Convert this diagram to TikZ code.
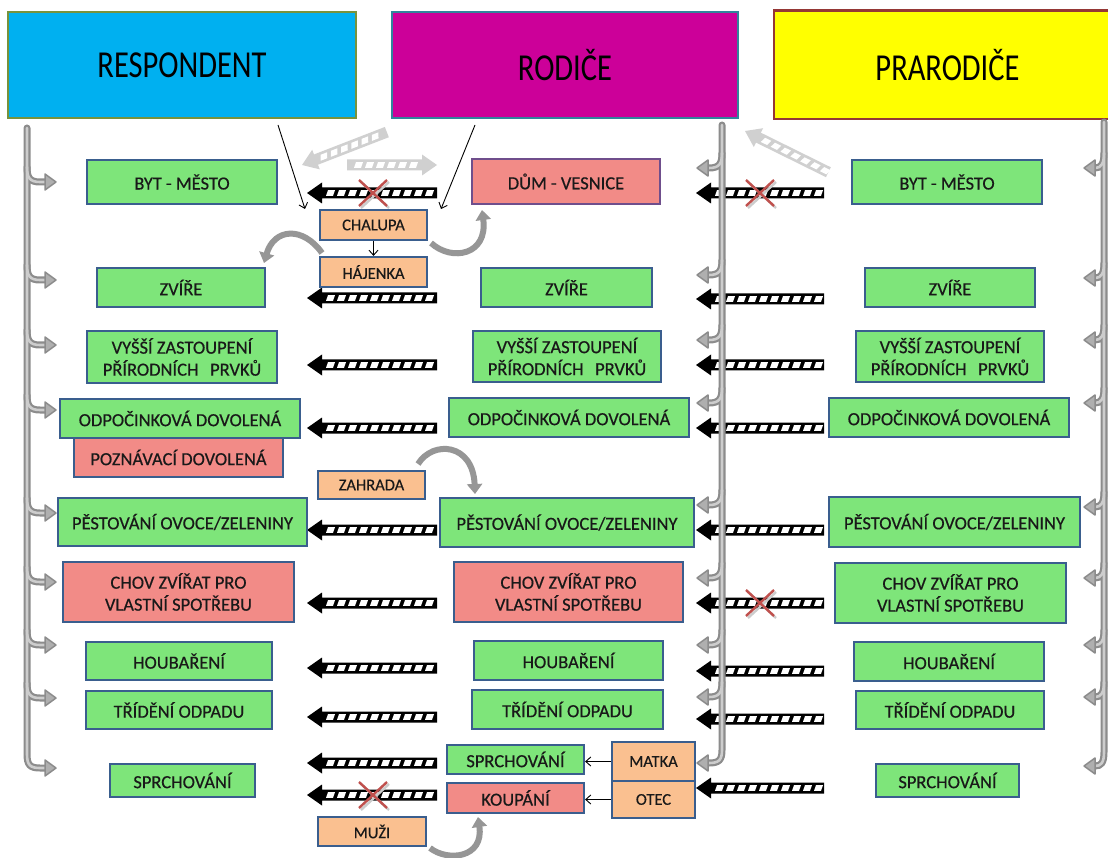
\documentclass[tikz,border=0pt]{standalone}
\usepackage{fontspec}
\setmainfont{Carlito}
\newfontfamily\bxfont{Carlito}[FakeBold=0.45]
\usetikzlibrary{arrows.meta,calc}
\definecolor{gfill}{HTML}{7EE57A}
\definecolor{pfill}{HTML}{F28B87}
\definecolor{ofill}{HTML}{FAC090}
\definecolor{bord}{HTML}{3A5E8E}
\definecolor{purp}{HTML}{6F4E8C}
\definecolor{cyanh}{HTML}{00B0F0}
\definecolor{magh}{HTML}{CC0099}
\definecolor{yelh}{HTML}{FFFF00}
\definecolor{cyanb}{HTML}{77933C}
\definecolor{magb}{HTML}{31859C}
\definecolor{yelb}{HTML}{953735}
\definecolor{pipeO}{RGB}{140,140,140}
\definecolor{pipeI}{RGB}{205,205,205}
\definecolor{pipeH}{RGB}{175,175,175}
\definecolor{curveg}{RGB}{150,150,150}
\definecolor{lightar}{RGB}{208,208,208}
\definecolor{xred}{HTML}{C0504D}
\tikzset{
  box/.style={draw=bord, line width=2.2pt, inner sep=0pt, align=center,
    font=\bxfont\fontsize{18.5}{22}\selectfont, text=black!90},
  gbox/.style={box, fill=gfill},
  pbox/.style={box, fill=pfill},
  obox/.style={box, fill=ofill, font=\bxfont\fontsize{16.5}{19}\selectfont},
  headbox/.style={line width=2.5pt, inner sep=0pt, font=\fontsize{30.5}{33}\selectfont},
  pipeo/.style={draw=pipeO, line width=7pt, line cap=round},
  pipei/.style={draw=pipeI, line width=2.6pt, line cap=round},
  pipehead/.style={fill=pipeH, draw=pipeO, line width=1.5pt, line join=round},
  garc/.style={draw=curveg, line width=6pt, -{Triangle[length=10pt,width=15pt]}},
  thinarr/.style={draw=black, line width=0.9pt, -{Straight Barb[length=5pt,width=9pt]}},
  xmk/.style={draw=xred, line width=2.4pt},
  xsh/.style={draw=black!20, line width=2.4pt},
  pics/sarrow/.style 2 args={code={
    \fill[#2] (0,0) -- (15,-10.5) -- (15,-5.5) -- (#1,-5.5) -- (#1,5.5) -- (15,5.5) -- (15,10.5) -- cycle;
    \pgfmathtruncatemacro\nd{(#1-26)/11}
    \foreach \k in {0,...,\nd}
      \fill[white] ({19+11*\k+2},-2.8) -- ({19+11*\k+9},-2.8) -- ({19+11*\k+7},2.8) -- ({19+11*\k},2.8) -- cycle;
  }}
}
\newcommand\mybox[7]{\node[#2, minimum width={#5-#3}, minimum height={#6-#4}] (#1) at ({(#3+#5)/2},{(#4+#6)/2}) {#7};}
\newcommand\pipeset[1]{%
  \foreach \y in {182,280,345,410,513,582,645,698}
    \draw[#1] (27,\y-15) .. controls (27,\y-4) and (30,\y) .. (40,\y) -- (45,\y);
  \draw[#1] (27,128) -- (27,754) .. controls (27,765) and (30,768) .. (40,768) -- (45,768);
  \foreach \y in {168,275,340,403,505,578,645,697}
    \draw[#1] (722,\y-15) .. controls (722,\y-4) and (719,\y) .. (709,\y) -- (708,\y);
  \draw[#1] (722,125) -- (722,750) .. controls (722,760) and (719,763) .. (709,763) -- (708,763);
  \foreach \y in {168,278,340,403,507,578,645,697}
    \draw[#1] (1104,\y-15) .. controls (1104,\y-4) and (1101,\y) .. (1095,\y);
  \draw[#1] (1104,122) -- (1104,752) .. controls (1104,763) and (1101,766) .. (1095,766);
}
\begin{document}
\begin{tikzpicture}[x=1pt,y=-1pt]
\useasboundingbox (0,0) rectangle (1108,858);
\clip (0,0) rectangle (1108,858);
\fill[white] (0,0) rectangle (1108,858);

% headers
\node[headbox, fill=cyanh, draw=cyanb, minimum width=348, minimum height=106] (hr) at (182,65) {\scalebox{1}[1.25]{RESPONDENT}};
\node[headbox, fill=magh, draw=magb, minimum width=346, minimum height=106] (hp) at (565,65) {\scalebox{1}[1.25]{RODIČE}};
\node[headbox, fill=yelh, minimum width=345, minimum height=106] (hg) at (947.5,65) {\scalebox{1}[1.25]{PRARODIČE}};
\draw[yelb, line width=2.5pt] (hg.north east) -- (hg.north west) -- (hg.south west) -- (hg.south east);

% striped arrows (black)
\foreach \y in {193,298,365,428,530,603,668,717,763,795}
  \pic at (307,\y) {sarrow={130}{black}};
\foreach \y in {193,299,365,428,530,603,671,719,788}
  \pic at (696,\y) {sarrow={128}{black}};
% light arrows
\pic[rotate=21.2] at (302,165) {sarrow={91}{lightar}};
\pic[rotate=180] at (437,165) {sarrow={90}{lightar}};
\pic[rotate=-26.3] at (745,131) {sarrow={93}{lightar}};

% pipes
\pipeset{pipeo}
\pipeset{pipei}
\foreach \y in {182,280,345,410,513,582,645,698,768}
  \filldraw[pipehead] (45,\y-8) -- (56,\y) -- (45,\y+8) -- cycle;
\foreach \y in {168,275,340,403,505,578,645,697,763}
  \filldraw[pipehead] (708,\y-8) -- (697,\y) -- (708,\y+8) -- cycle;
\foreach \y in {168,278,340,403,507,578,645,697,766}
  \filldraw[pipehead] (1095,\y-8) -- (1084,\y) -- (1095,\y+8) -- cycle;

% respondent column
\mybox{r1}{gbox}{87}{160}{277}{204}{BYT - MĚSTO}
\mybox{r2}{gbox}{97}{268}{265}{307}{ZVÍŘE}
\mybox{r3}{gbox}{87}{331}{277}{383}{VYŠŠÍ ZASTOUPENÍ\\PŘÍRODNÍCH\hspace{0.4em} PRVKŮ}
\mybox{r4}{gbox}{60}{399}{300}{438}{ODPOČINKOVÁ DOVOLENÁ}
\mybox{r5}{pbox}{74}{438}{283}{477}{POZNÁVACÍ DOVOLENÁ}
\mybox{r6}{gbox}{58}{498}{307}{546}{PĚSTOVÁNÍ OVOCE/ZELENINY}
\mybox{r7}{pbox}{63}{562}{294}{622}{CHOV ZVÍŘAT PRO\\VLASTNÍ SPOTŘEBU}
\mybox{r8}{gbox}{86}{642}{272}{680}{HOUBAŘENÍ}
\mybox{r9}{gbox}{86}{691}{272}{729}{TŘÍDĚNÍ ODPADU}
\mybox{r10}{gbox}{110}{764}{255}{797}{SPRCHOVÁNÍ}

% parents column
\mybox{p1}{pbox,draw=purp}{472}{159}{660}{204}{DŮM - VESNICE}
\mybox{p2}{gbox}{481}{268}{652}{307}{ZVÍŘE}
\mybox{p3}{gbox}{473}{331}{661}{382}{VYŠŠÍ ZASTOUPENÍ\\PŘÍRODNÍCH\hspace{0.4em} PRVKŮ}
\mybox{p4}{gbox}{449}{398}{689}{437}{ODPOČINKOVÁ DOVOLENÁ}
\mybox{p6}{gbox}{440}{498}{694}{547}{PĚSTOVÁNÍ OVOCE/ZELENINY}
\mybox{p7}{pbox}{454}{562}{683}{622}{CHOV ZVÍŘAT PRO\\VLASTNÍ SPOTŘEBU}
\mybox{p8}{gbox}{474}{641}{663}{680}{HOUBAŘENÍ}
\mybox{p9}{gbox}{472}{690}{663}{729}{TŘÍDĚNÍ ODPADU}
\mybox{p10}{gbox}{447}{745}{584}{774}{SPRCHOVÁNÍ}
\mybox{p11}{pbox}{447}{783}{584}{813}{KOUPÁNÍ}

% grandparents column
\mybox{g1}{gbox}{852}{160}{1042}{204}{BYT - MĚSTO}
\mybox{g2}{gbox}{865}{268}{1035}{307}{ZVÍŘE}
\mybox{g3}{gbox}{856}{331}{1044}{382}{VYŠŠÍ ZASTOUPENÍ\\PŘÍRODNÍCH\hspace{0.4em} PRVKŮ}
\mybox{g4}{gbox}{829}{398}{1069}{437}{ODPOČINKOVÁ DOVOLENÁ}
\mybox{g6}{gbox}{829}{497}{1080}{547}{PĚSTOVÁNÍ OVOCE/ZELENINY}
\mybox{g7}{gbox}{835}{563}{1066}{623}{CHOV ZVÍŘAT PRO\\VLASTNÍ SPOTŘEBU}
\mybox{g8}{gbox}{854}{642}{1044}{681}{HOUBAŘENÍ}
\mybox{g9}{gbox}{856}{691}{1044}{729}{TŘÍDĚNÍ ODPADU}
\mybox{g10}{gbox}{876}{764}{1019}{797}{SPRCHOVÁNÍ}

% small orange boxes
\mybox{chalupa}{obox}{320}{210}{427}{240}{CHALUPA}
\mybox{hajenka}{obox}{320}{257}{427}{287}{HÁJENKA}
\mybox{zahrada}{obox}{318}{471}{425}{499}{ZAHRADA}
\mybox{matka}{obox}{612}{742}{695}{781}{MATKA}
\mybox{otec}{obox}{612}{781}{695}{818}{OTEC}
\mybox{muzi}{obox}{318}{817}{426}{846}{MUŽI}

% red crosses
\foreach \x/\y in {373/193,760/193,760/603,373/795}{
  \draw[xsh] (\x-12,\y-11) -- (\x+16,\y+15) (\x-12,\y+15) -- (\x+16,\y-11);
  \draw[xmk] (\x-14,\y-13) -- (\x+14,\y+13) (\x-14,\y+13) -- (\x+14,\y-13);
}

% thin arrows
\coordinate (t1s) at (278,125);
\coordinate (t1e) at (305,209);
\coordinate (t2s) at (475,125);
\coordinate (t2e) at (441,209);
\draw[thinarr] (t1s) -- (t1e);
\draw[thinarr] (t2s) -- (t2e);
\draw[thinarr] (chalupa.south) -- (hajenka.north);
\draw[thinarr] (matka.west) -- (matka.west -| p10.east);
\draw[thinarr] (otec.west) -- (otec.west -| p11.east);

% gray curved arrows
\coordinate (c1s) at (322,253);
\coordinate (c1e) at (264,263);
\coordinate (c2s) at (431,243);
\coordinate (c2e) at (482,210);
\coordinate (c3s) at (418,464);
\coordinate (c3e) at (475,494);
\coordinate (c4s) at (430,848);
\coordinate (c4e) at (478,817);
\draw[garc] (c1s) .. controls (303,226) and (274,228) .. (c1e);
\draw[garc] (c2s) .. controls (452,262) and (488,255) .. (c2e);
\draw[garc] (c3s) .. controls (433,440) and (473,443) .. (c3e);
\draw[garc] (c4s) .. controls (448,862) and (484,858) .. (c4e);
\end{tikzpicture}
\end{document}
